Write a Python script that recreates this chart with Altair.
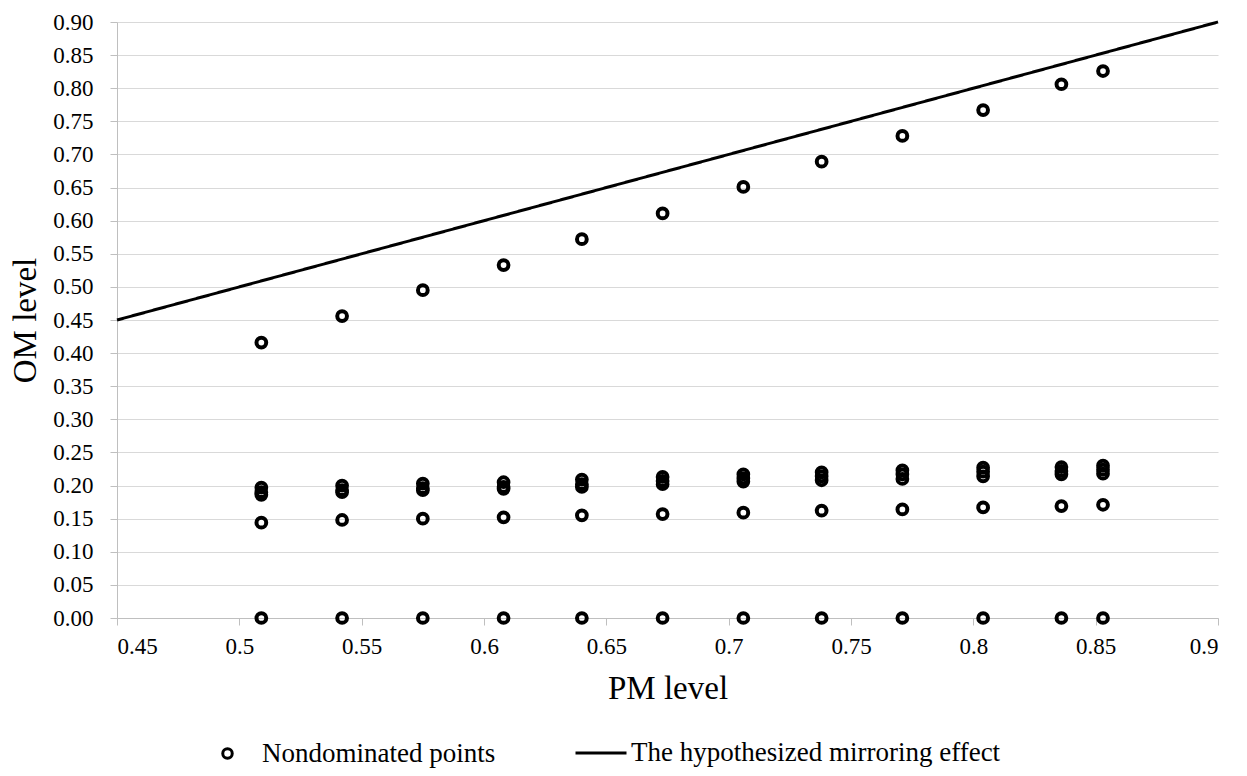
import altair as alt
import pandas as pd

# PM levels (x) of the nondominated points
pm = [0.509, 0.542, 0.575, 0.608, 0.640, 0.673, 0.706, 0.738, 0.771, 0.804, 0.836, 0.853]
# OM levels (y) for the groups of nondominated points at each PM level
om_top = [0.416, 0.456, 0.495, 0.533, 0.572, 0.611, 0.651, 0.689, 0.728, 0.767, 0.806, 0.826]
om_hi = [0.197, 0.200, 0.203, 0.205, 0.209, 0.213, 0.217, 0.220, 0.223, 0.227, 0.228, 0.230]
om_mid = [0.190, 0.193, 0.196, 0.198, 0.202, 0.207, 0.211, 0.214, 0.217, 0.221, 0.222, 0.224]
om_lo = [0.186, 0.190, 0.193, 0.195, 0.198, 0.202, 0.206, 0.208, 0.210, 0.214, 0.217, 0.218]
om_low = [0.144, 0.148, 0.150, 0.152, 0.155, 0.157, 0.159, 0.162, 0.164, 0.167, 0.169, 0.171]
om_zero = [0.0] * 12

# hypothesized mirroring effect line (OM = PM)
line_pm = [0.45, 0.90]
line_om = [0.45, 0.90]

x_ticks = [0.45, 0.5, 0.55, 0.6, 0.65, 0.7, 0.75, 0.8, 0.85, 0.9]
y_ticks = [0.0, 0.05, 0.1, 0.15, 0.2, 0.25, 0.3, 0.35, 0.4, 0.45,
           0.5, 0.55, 0.6, 0.65, 0.7, 0.75, 0.8, 0.85, 0.9]

point_name = "Nondominated points"
line_name = "The hypothesized mirroring effect"

rows = []
for grp in [om_top, om_hi, om_mid, om_lo, om_low, om_zero]:
    for x, y in zip(pm, grp):
        rows.append({"PM": x, "OM": y, "pseries": point_name})
points_df = pd.DataFrame(rows)
line_df = pd.DataFrame({"PM": line_pm, "OM": line_om, "lseries": [line_name] * 2})

FONT = "Liberation Serif"


def x_enc():
    return alt.X("PM:Q", scale=alt.Scale(domain=[0.45, 0.9], nice=False, zero=False),
                 axis=alt.Axis(title="PM level", values=x_ticks, format="~g", grid=False,
                               labelPadding=10, titlePadding=14, labelOverlap=False))


def y_enc():
    return alt.Y("OM:Q", scale=alt.Scale(domain=[0, 0.9], nice=False, zero=True),
                 axis=alt.Axis(title="OM level", values=y_ticks, format=".2f", grid=True,
                               labelPadding=17, titlePadding=10, labelOverlap=False,
                               tickCount=19))


pts = alt.Chart(points_df).mark_point(filled=False, strokeWidth=4, opacity=1,
                                      color="black", size=95).encode(
    x=x_enc(),
    y=y_enc(),
    shape=alt.Shape("pseries:N", scale=alt.Scale(domain=[point_name], range=["circle"]),
                    legend=alt.Legend(title=None, orient="none", legendX=97, legendY=718,
                                      labelOffset=21, symbolSize=90, symbolStrokeWidth=3,
                                      symbolStrokeColor="black", symbolFillColor="transparent")),
)

line = alt.Chart(line_df).mark_line(strokeWidth=3, color="black").encode(
    x=x_enc(),
    y=y_enc(),
    strokeDash=alt.StrokeDash("lseries:N", scale=alt.Scale(domain=[line_name], range=[[1, 0]]),
                              legend=alt.Legend(title=None, orient="none", legendX=457, legendY=704,
                                                labelOffset=3, symbolType="stroke", symbolSize=2601,
                                                symbolStrokeWidth=3, symbolStrokeColor="black")),
)

chart = alt.layer(line, pts).properties(
    width=1101, height=596,
    padding={"left": 109, "top": 14, "right": 21, "bottom": 150},
    autosize=alt.AutoSizeParams(type="none"),
).configure_view(stroke=None).configure_axis(
    labelFont=FONT, labelFontSize=23, labelColor="black",
    titleFont=FONT, titleFontSize=33, titleFontWeight="normal", titleColor="black",
    tickSize=7, tickColor="#bfbfbf", domainColor="#bfbfbf", gridColor="#d9d9d9",
    domainWidth=1, tickWidth=1, gridWidth=1,
).configure_legend(
    labelFont=FONT, labelFontSize=27, labelColor="black", labelLimit=0,
    padding=0, titlePadding=0,
)

chart.save("out.html", embed_options={"renderer": "svg", "actions": False})
